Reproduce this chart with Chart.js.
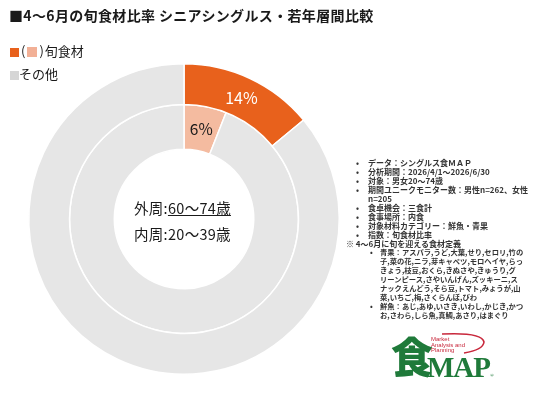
<!DOCTYPE html>
<html>
<head>
<meta charset="utf-8">
<script src="https://cdn.jsdelivr.net/npm/chart.js@4"></script>
<style>
  body { margin: 0; background: #fff; font-family: "Noto Sans CJK JP", "Noto Sans", sans-serif; color: #1a1a1a; }
  #wrap { position: relative; width: 536px; height: 403px; overflow: hidden; }
  #chart { position: absolute; left: 0; top: 0; }
  .title { position: absolute; left: 9px; top: 5px; font-size: 14px; font-weight: bold; letter-spacing: 0.35px; }
  .legend { position: absolute; left: 10px; font-size: 13px; line-height: 16px; }
  .sq { display: inline-block; width: 9px; height: 9px; vertical-align: -1px; }
  .center { position: absolute; left: 134px; font-size: 14.5px; line-height: 18px; letter-spacing: 0.3px; }
  .note { position: absolute; left: 0; top: 158px; font-size: 8px; line-height: 9px; font-weight: bold; color: #333; }
  .note div { position: relative; white-space: nowrap; }
  .l1 { padding-left: 368px; }
  .l2 { padding-left: 380px; font-size: 7.3px; }
  .b1::before { content: "•"; position: absolute; left: 356px; }
  .b2::before { content: "•"; position: absolute; left: 370px; }
  .kome { padding-left: 346px; }
  .logo { position: absolute; left: 390px; top: 330px; width: 110px; height: 60px; }
</style>
</head>
<body>
<div id="wrap">
  <canvas id="chart" width="536" height="403"></canvas>
  <div class="title">■4～6月の旬食材比率 シニアシングルス・若年層間比較</div>
  <div class="legend" style="top:43px"><span class="sq" style="background:#E8611C"></span><span style="margin:0 2px 0 2px">(</span><span class="sq" style="background:#F2B096;width:10px;height:10px"></span><span style="margin:0 1px 0 2px">)</span>旬食材</div>
  <div class="legend" style="top:66px"><span class="sq" style="background:#D6D6D6"></span>その他</div>
  <div class="center" style="top:199px">外周:<span style="text-decoration:underline">60～74歳</span></div>
  <div class="center" style="top:225px">内周:20～39歳</div>
  <div class="note">
    <div class="l1 b1">データ：シングルス食ＭＡＰ</div>
    <div class="l1 b1">分析期間：2026/4/1～2026/6/30</div>
    <div class="l1 b1">対象：男女20～74歳</div>
    <div class="l1 b1">期間ユニークモニター数：男性n=262、女性</div>
    <div class="l1">n=205</div>
    <div class="l1 b1">食卓機会：三食計</div>
    <div class="l1 b1">食事場所：内食</div>
    <div class="l1 b1">対象材料カテゴリー：鮮魚・青果</div>
    <div class="l1 b1">指数：旬食材比率</div>
    <div class="kome">※ 4～6月に旬を迎える食材定義</div>
    <div class="l2 b2">青果：アスパラ,うど,大葉,せり,セロリ,竹の</div>
    <div class="l2">子,菜の花,ニラ,芽キャベツ,モロヘイヤ,らっ</div>
    <div class="l2">きょう,枝豆,おくら,きぬさや,きゅうり,グ</div>
    <div class="l2">リーンピース,さやいんげん,ズッキーニ,ス</div>
    <div class="l2">ナックえんどう,そら豆,トマト,みょうが,山</div>
    <div class="l2">菜,いちご,梅,さくらんぼ,びわ</div>
    <div class="l2 b2">鮮魚：あじ,あゆ,いさき,いわし,かじき,かつ</div>
    <div class="l2">お,さわら,しら魚,真鯛,あさり,はまぐり</div>
  </div>
  <div class="logo">
    <svg width="110" height="60" style="position:absolute;left:0;top:0">
      <path d="M52 4 Q92 2 94 12 Q93 20 74 23" fill="none" stroke="#C8283C" stroke-width="1.6"/>
    </svg>
    <div style="position:absolute;left:1px;top:0px;font-size:42px;line-height:50px;font-weight:900;color:#1F7A3A;font-family:'Noto Sans CJK JP'">食</div>
    <div style="position:absolute;left:41px;top:7px;font-size:6px;line-height:5.5px;color:#C8283C;font-family:'Liberation Sans'">Market<br>Analysis and<br>Planning</div>
    <div style="position:absolute;left:37px;top:21px;font-size:29px;line-height:32px;font-weight:bold;color:#1F7A3A;font-family:'Liberation Serif';letter-spacing:-1px">MAP<span style="font-size:5px;letter-spacing:0">®</span></div>
  </div>
</div>
<script>
// data
const categories = ['旬食材', 'その他'];
const outerValues = [14, 86]; // 外周 60～74歳
const innerValues = [6, 94];  // 内周 20～39歳

const outerColors = ['#E8611C', '#E6E6E6'];
const innerColors = ['#F4BBA0', '#E6E6E6'];

// percentage label on the 旬食材 slice of each ring
const sliceLabels = {
  id: 'sliceLabels',
  afterDatasetsDraw(chart) {
    const ctx = chart.ctx;
    chart.data.datasets.forEach((ds, i) => {
      const arc = chart.getDatasetMeta(i).data[0];
      const p = arc.tooltipPosition();
      ctx.save();
      ctx.font = (i === 0 ? '16px' : '15.5px') + ' "Noto Sans CJK JP", "Noto Sans"';
      ctx.fillStyle = i === 0 ? '#ffffff' : '#1a1a1a';
      ctx.textAlign = 'center';
      ctx.textBaseline = 'middle';
      ctx.fillText(ds.data[0] + '%', p.x, p.y + 1);
      ctx.restore();
    });
  }
};

new Chart(document.getElementById('chart'), {
  type: 'doughnut',
  data: {
    labels: categories,
    datasets: [
      { label: '外周', data: outerValues, backgroundColor: outerColors, borderColor: '#ffffff', borderWidth: 1.5, weight: 41 },
      { label: '内周', data: innerValues, backgroundColor: innerColors, borderColor: '#ffffff', borderWidth: 1.5, weight: 45 }
    ]
  },
  options: {
    responsive: false,
    animation: false,
    cutout: '44.9%',
    layout: { padding: { left: 28, right: 196, top: 63, bottom: 28 } },
    plugins: { legend: { display: false }, tooltip: { enabled: false } }
  },
  plugins: [sliceLabels]
});
</script>
</body>
</html>
